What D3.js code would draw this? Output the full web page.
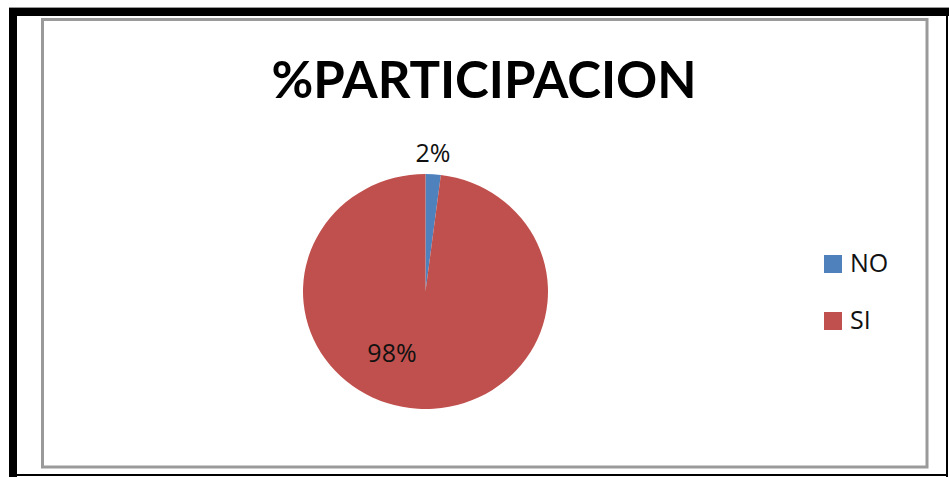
<!DOCTYPE html>
<html>
<head>
<meta charset="utf-8">
<script src="https://cdn.jsdelivr.net/npm/d3@7/dist/d3.min.js"></script>
<style>
html,body{margin:0;padding:0;background:#fff;}
svg{display:block;}
</style>
</head>
<body>
<script>
const title = "%PARTICIPACION";
const categories = ["NO", "SI"];
const values = [2, 98];
const colors = ["#4F81BD", "#C0504D"];

const W = 949, H = 477;
const svg = d3.select("body").append("svg").attr("width", W).attr("height", H);

svg.append("rect").attr("width", W).attr("height", H).attr("fill", "#fff");

// outer black frame
svg.append("rect").attr("x", 9).attr("y", 7).attr("width", 940).attr("height", 1).attr("fill", "#999");
svg.append("rect").attr("x", 9).attr("y", 8).attr("width", 940).attr("height", 8).attr("fill", "#000");
svg.append("rect").attr("x", 9).attr("y", 8).attr("width", 8).attr("height", 469).attr("fill", "#000");
svg.append("rect").attr("x", 946).attr("y", 8).attr("width", 2).attr("height", 469).attr("fill", "#000");
svg.append("rect").attr("x", 9).attr("y", 474).attr("width", 939).attr("height", 2).attr("fill", "#000");

// inner grey frame
svg.append("rect").attr("x", 42.5).attr("y", 19.5).attr("width", 884.5).attr("height", 447.5)
  .attr("fill", "none").attr("stroke", "#9a9a9a").attr("stroke-width", 3);

// title
svg.append("text").attr("x", 484).attr("y", 98).attr("text-anchor", "middle")
  .attr("font-family", "Lato, 'Open Sans', sans-serif").attr("font-weight", "bold")
  .attr("font-size", 52).attr("fill", "#000")
  .attr("textLength", 425).attr("lengthAdjust", "spacingAndGlyphs")
  .text(title);

// pie
const cx = 425.5, cy = 291.5, r = 122.5, sy = 117.5 / 122.5;
const pie = d3.pie().sort(null).value(d => d)(values);
const arc = d3.arc().innerRadius(0).outerRadius(r);
const g = svg.append("g").attr("transform", `translate(${cx},${cy}) scale(1,${sy})`);
g.selectAll("path").data(pie).join("path")
  .attr("d", arc).attr("fill", (d, i) => colors[i]);

// data labels
const labelPos = [[433, 162], [392, 362]];
svg.selectAll("text.lbl").data(pie).join("text").attr("class", "lbl")
  .attr("x", (d, i) => labelPos[i][0]).attr("y", (d, i) => labelPos[i][1])
  .attr("text-anchor", "middle")
  .attr("font-family", "'Open Sans', Lato, sans-serif").attr("font-size", 25)
  .attr("fill", "#111")
  .text(d => d.data + "%");

// legend
const leg = svg.append("g");
categories.forEach((c, i) => {
  const y = 255 + i * 57;
  leg.append("rect").attr("x", 824).attr("y", y).attr("width", 18).attr("height", 18).attr("fill", colors[i]);
  leg.append("text").attr("x", 850).attr("y", y + 17)
    .attr("font-family", "'Open Sans', Lato, sans-serif").attr("font-size", 25).attr("fill", "#111")
    .text(c);
});
</script>
</body>
</html>
